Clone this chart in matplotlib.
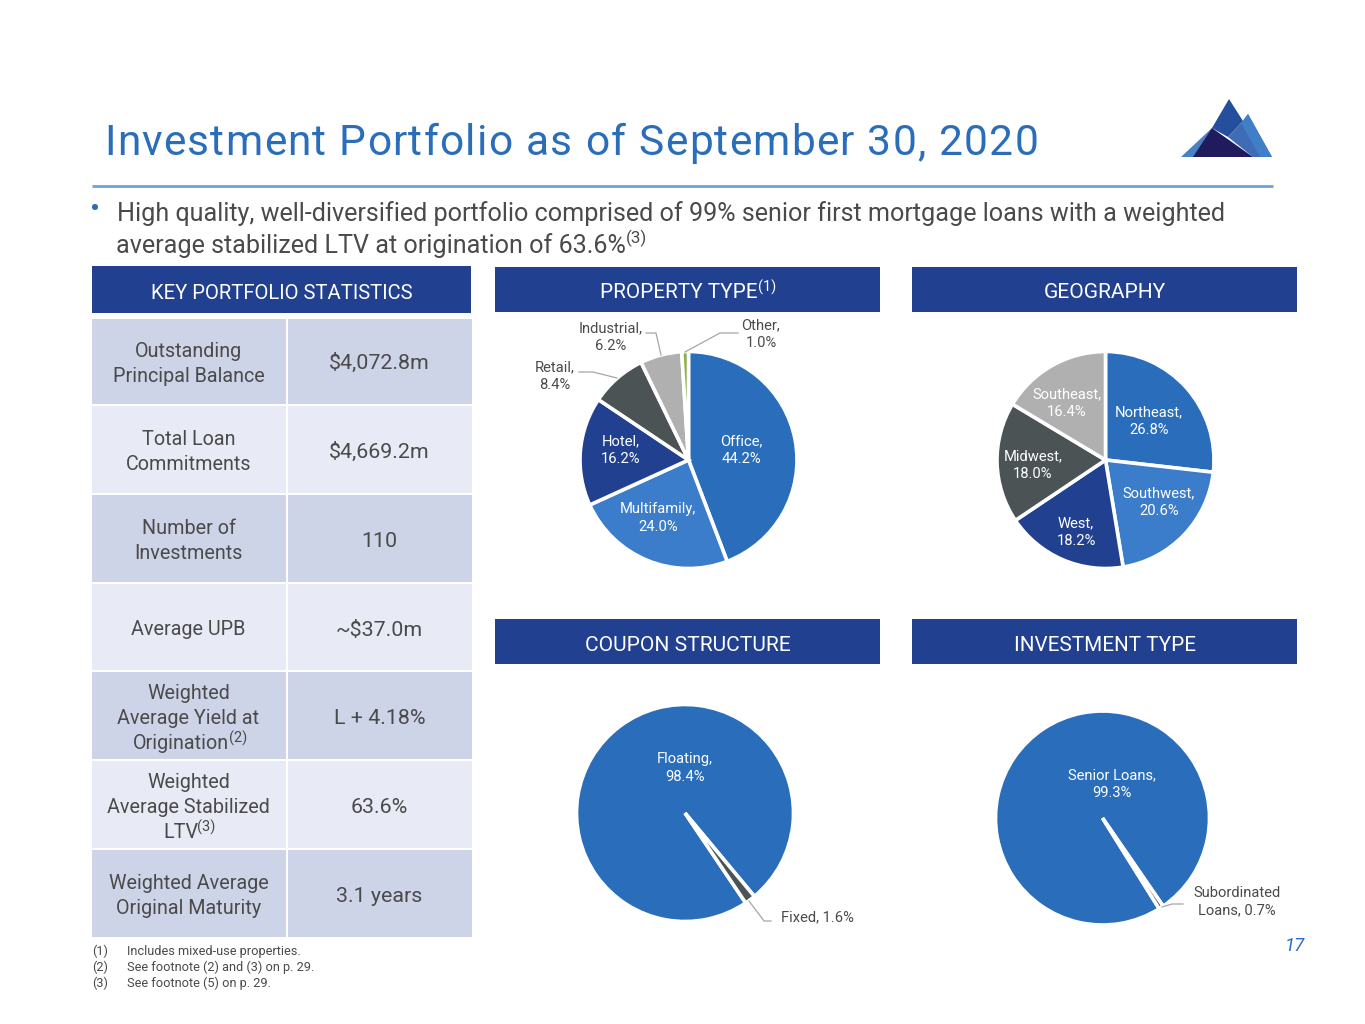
import matplotlib
matplotlib.use('Agg')
import matplotlib.pyplot as plt
from matplotlib.patches import Rectangle, Polygon

plt.rcParams['font.family'] = ['Roboto', 'DejaVu Sans']

W, H = 1365, 1024

# данные диаграмм
property_names = ['Office', 'Multifamily', 'Hotel', 'Retail', 'Industrial', 'Other']
property_values = [44.2, 24.0, 16.2, 8.4, 6.2, 1.0]
geo_names = ['Northeast', 'Southwest', 'West', 'Midwest', 'Southeast']
geo_values = [26.8, 20.6, 18.2, 18.0, 16.4]
coupon_names = ['Floating', 'Fixed']
coupon_values = [98.4, 1.6]
invest_names = ['Senior Loans', 'Subordinated Loans']
invest_values = [99.3, 0.7]

# таблица
stat_names = [['Outstanding', 'Principal Balance'], ['Total Loan', 'Commitments'], ['Number of', 'Investments'],
              ['Average UPB'], ['Weighted', 'Average Yield at', 'Origination'],
              ['Weighted', 'Average Stabilized', 'LTV'], ['Weighted Average', 'Original Maturity']]
stat_values = ['$4,072.8m', '$4,669.2m', '110', '~$37.0m', 'L + 4.18%', '63.6%', '3.1 years']

footnotes = ['Includes mixed-use properties.', 'See footnote (2) and (3) on p. 29.', 'See footnote (5) on p. 29.']

BLUE = '#2A6EBB'
LIGHT = '#3B7CCB'
NAVY = '#21408F'
SLATE = '#4B5355'
GREY = '#B0B0B0'
GREEN = '#8CB04A'
TEXT = '#4A4A4A'

fig = plt.figure(figsize=(W / 100, H / 100), dpi=100, facecolor='white')


def pie(cx, cy, r, values, colors, start):
    ax = fig.add_axes([(cx - r) / W, 1 - (cy + r) / H, 2 * r / W, 2 * r / H])
    ax.pie(values, colors=colors, startangle=start, counterclock=False, radius=1,
           wedgeprops={'edgecolor': 'white', 'linewidth': 2.6})
    ax.set_xlim(-1, 1)
    ax.set_ylim(-1, 1)
    ax.axis('off')
    for w in ax.patches:
        w.set_clip_on(False)


pie(688.5, 460, 108.5, property_values, [BLUE, LIGHT, NAVY, SLATE, GREY, GREEN], 90)
pie(1105.5, 460, 108.5, geo_values, [BLUE, LIGHT, NAVY, SLATE, GREY], 90)
pie(685, 813, 108.5, coupon_values, [BLUE, SLATE], -56)
pie(1102.5, 818, 107, invest_values, [BLUE, SLATE], -58)

# общий слой в пикселях
ov = fig.add_axes([0, 0, 1, 1], facecolor='none')
ov.set_xlim(0, W)
ov.set_ylim(H, 0)
ov.axis('off')


def box(x0, y0, x1, y1, color):
    ov.add_patch(Rectangle((x0, y0), x1 - x0, y1 - y0, facecolor=color, edgecolor='none'))


def txt(x, y, s, size=14, color=TEXT, ha='center', va='center', **kw):
    return ov.text(x, y, s, fontsize=size * 0.72, color=color, ha=ha, va=va, **kw)


def spaced(x, y, s, size, color, gap):
    # заголовок с разрядкой: символы ставятся по одному
    r = fig.canvas.get_renderer()
    for ch in s:
        t = ov.text(x, y, ch, fontsize=size * 0.72, color=color, ha='left', va='baseline')
        if ch == ' ':
            x += size * 0.25 + gap
        else:
            probe = ov.text(0, 0, ch + ch, fontsize=size * 0.72)
            w2 = probe.get_window_extent(r).width
            w1 = t.get_window_extent(r).width
            probe.remove()
            x += (w2 - w1) + gap


# заголовок
spaced(104, 155, 'Investment Portfolio as of September 30, 2020', 42.5, BLUE, 1.25)
ov.plot([92, 1273], [186, 186], color='#6FA0D8', lw=2.0, solid_capstyle='butt')

# логотип
ov.add_patch(Polygon([(1181, 157), (1212, 128), (1228, 157)], color='#4A80C4', lw=0))
ov.add_patch(Polygon([(1212, 128), (1229, 99), (1243, 121), (1228, 137)], color='#234F9C', lw=0))
ov.add_patch(Polygon([(1228, 137), (1243, 121), (1248, 114), (1272, 157), (1253, 157)], color='#3F6DB5', lw=0))
ov.add_patch(Polygon([(1248, 114), (1272, 157), (1260, 157), (1241, 123)], color='#3F7FC8', lw=0))
ov.add_patch(Polygon([(1193, 157), (1212, 128), (1253, 157)], color='#1F1B5C', lw=0))

# основной текст
txt(95, 210, '•', size=30, color=BLUE)
txt(117, 221, 'High quality, well-diversified portfolio comprised of 99% senior first mortgage loans with a weighted',
    size=25.12, ha='left', va='baseline')
txt(116, 253, 'average stabilized LTV at origination of 63.6%', size=25.12, ha='left', va='baseline')
txt(626, 243, '(3)', size=17, ha='left', va='baseline')

# заголовки панелей
box(92, 266, 471, 313, '#21408F')
box(495, 267, 880, 312, '#21408F')
box(912, 267, 1297, 312, '#21408F')
box(495, 619, 880, 664, '#21408F')
box(912, 619, 1297, 664, '#21408F')
txt(281.5, 299, 'KEY PORTFOLIO STATISTICS', size=20.3, color='white', va='baseline')
txt(678.5, 298, 'PROPERTY TYPE', size=20.7, color='white', va='baseline')
txt(758, 287, '(1)', size=14.5, color='white', ha='left')
txt(1105, 298, 'GEOGRAPHY', size=21, color='white', va='baseline')
txt(687.5, 651, 'COUPON STRUCTURE', size=21, color='white', va='baseline')
txt(1104.5, 651, 'INVESTMENT TYPE', size=20.7, color='white', va='baseline')

# таблица статистики
row_tops = [319, 406, 495, 584, 672, 761, 850]
row_bots = [404, 493, 582, 670, 759, 848, 937]
name_centers = [362.5, 450.5, 539.5, 628, 717, 806, 894.5]
value_baselines = [369, 458, 547, 636, 724, 813, 902]
for i in range(7):
    fill = '#CDD4E8' if i % 2 == 0 else '#E8EBF5'
    box(92, row_tops[i], 286, row_bots[i], fill)
    box(288, row_tops[i], 471.5, row_bots[i], fill)
    lines = stat_names[i]
    for k, line in enumerate(lines):
        y = name_centers[i] + (k - (len(lines) - 1) / 2) * 25 + 7
        # последняя строка со сноской сдвинута влево
        x = 188.5
        if line in ('Origination', 'LTV'):
            x = 180.5
        txt(x, y, line, size=19.8, va='baseline')
    txt(379.5, value_baselines[i], stat_values[i], size=21.4, va='baseline')
txt(228.5, 738, '(2)', size=14.5, ha='left')
txt(197, 827, '(3)', size=14.5, ha='left')


def label(x, y, s, color=TEXT):
    txt(x, y, s, size=14.8, color=color, linespacing=1.3)


def pct(names, values, i):
    return f'{names[i]},\n{values[i]:.1f}%'


# подписи секторов
label(741, 450, pct(property_names, property_values, 0), 'white')
label(658, 518, pct(property_names, property_values, 1), 'white')
label(621, 450, pct(property_names, property_values, 2), 'white')
label(555, 376, pct(property_names, property_values, 3))
label(611, 337, pct(property_names, property_values, 4))
label(761, 334, pct(property_names, property_values, 5))
label(1149, 421, pct(geo_names, geo_values, 0), 'white')
label(1159, 502, pct(geo_names, geo_values, 1), 'white')
label(1076, 532, pct(geo_names, geo_values, 2), 'white')
label(1033, 465, pct(geo_names, geo_values, 3), 'white')
label(1067, 403, pct(geo_names, geo_values, 4), 'white')
label(685, 768, pct(coupon_names, coupon_values, 0), 'white')
label(817, 917, f'{coupon_names[1]}, {coupon_values[1]:.1f}%')
label(1112, 784, pct(invest_names, invest_values, 0), 'white')
label(1237, 902, f'Subordinated\nLoans, {invest_values[1]:.1f}%')

# выноски
lead = {'color': '#A6A6A6', 'lw': 0.9}
ov.plot([646, 656, 661], [333, 333, 355], **lead)
ov.plot([738, 720, 685], [333, 333, 352], **lead)
ov.plot([579, 593, 617], [372, 372, 378], **lead)
ov.plot([749, 764, 771], [901, 921, 921], **lead)
ov.plot([1162, 1172, 1183], [907, 904, 904], **lead)

# сноски
for i in range(3):
    y = 951 + 16 * i
    txt(92, y, f'({i + 1})', size=12.8, ha='left')
    txt(127, y, footnotes[i], size=12.7, ha='left')
txt(1295, 946, '17', size=18.5, color=BLUE, style='italic')

ov.set_xlim(0, W)
ov.set_ylim(H, 0)
fig.savefig('out.png', dpi=100)
